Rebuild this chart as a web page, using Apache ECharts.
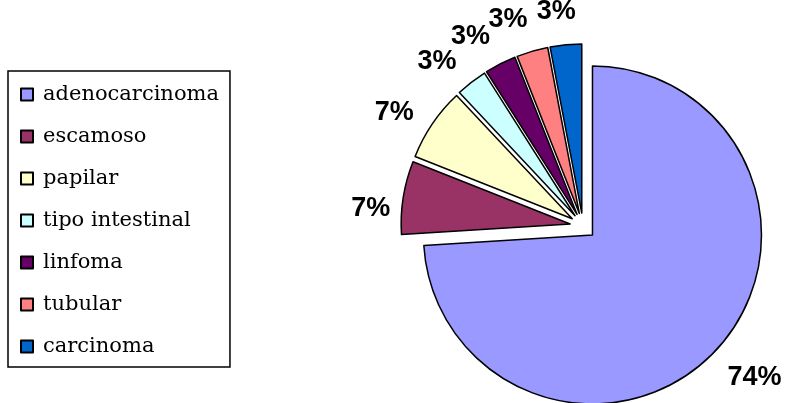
<!DOCTYPE html>
<html>
<head>
<meta charset="utf-8">
<script src="https://cdn.jsdelivr.net/npm/echarts@6/dist/echarts.min.js"></script>
<style>
  html, body { margin: 0; padding: 0; background: #fff; }
  #chart { width: 785px; height: 403px; }
</style>
</head>
<body>
<div id="chart"></div>
<script>
// 数据
const categories = ['adenocarcinoma', 'escamoso', 'papilar', 'tipo intestinal', 'linfoma', 'tubular', 'carcinoma']
const values = [74, 7, 7, 3, 3, 3, 3]
const colors = ['#9999ff', '#993366', '#ffffcc', '#ccffff', '#660066', '#ff8080', '#0066cc']

const pieCenter = [583, 226]
// 标签微调：逆时针偏移角度（度）与径向距离补正
const labelShiftDeg = [1.8, 4.5, 3.5, 4, 4, 4, 1.8]
const labelExtra = [9, -7, 0, 0, 0, 0, -4]

const chart = echarts.init(document.getElementById('chart'))

const shiftLabel = (params) => {
  const r = params.labelRect
  const i = params.dataIndex
  const right = r.x + r.width / 2 > pieCenter[0]
  const ax = right ? r.x : r.x + r.width
  const ay = r.y + r.height / 2
  const shift = labelShiftDeg[i] * Math.PI / 180
  let vx = ax - pieCenter[0]
  let vy = ay - pieCenter[1]
  const len = Math.hypot(vx, vy)
  vx *= (len + labelExtra[i]) / len
  vy *= (len + labelExtra[i]) / len
  const nx = vx * Math.cos(shift) + vy * Math.sin(shift)
  const ny = -vx * Math.sin(shift) + vy * Math.cos(shift)
  return {
    dx: pieCenter[0] + nx - (r.x + r.width / 2),
    dy: pieCenter[1] + ny - ay
  }
}

const option = {
  animation: false,
  color: colors,
  legend: {
    orient: 'vertical',
    left: 8,
    top: 71,
    padding: [13, 11, 10, 12],
    itemWidth: 12,
    itemHeight: 12,
    itemGap: 21,
    icon: 'rect',
    borderColor: '#000',
    borderWidth: 1.5,
    selectedMode: false,
    textStyle: {
      fontFamily: 'DejaVu Serif',
      fontSize: 21,
      lineHeight: 20,
      color: '#000',
      padding: [0, 0, 0, 5]
    },
    data: categories
  },
  series: [
    {
      type: 'pie',
      center: pieCenter,
      radius: 169,
      startAngle: 90,
      clockwise: true,
      selectedMode: 'multiple',
      selectedOffset: 13,
      percentPrecision: 0,
      avoidLabelOverlap: false,
      itemStyle: {
        borderColor: '#000',
        borderWidth: 1.5
      },
      select: {
        itemStyle: { borderColor: '#000', borderWidth: 1.5 },
        label: { color: '#000' }
      },
      emphasis: { disabled: true },
      label: {
        show: true,
        position: 'outside',
        formatter: '{d}%',
        fontFamily: 'Liberation Sans',
        fontWeight: 'bold',
        fontSize: 27,
        color: '#000',
        overflow: 'none',
        distanceToLabelLine: 0
      },
      labelLine: { show: false, length: 38, length2: 0 },
      labelLayout: shiftLabel,
      data: categories.map((name, i) => ({ name: name, value: values[i], selected: true }))
    }
  ]
}

chart.setOption(option)
</script>
</body>
</html>
